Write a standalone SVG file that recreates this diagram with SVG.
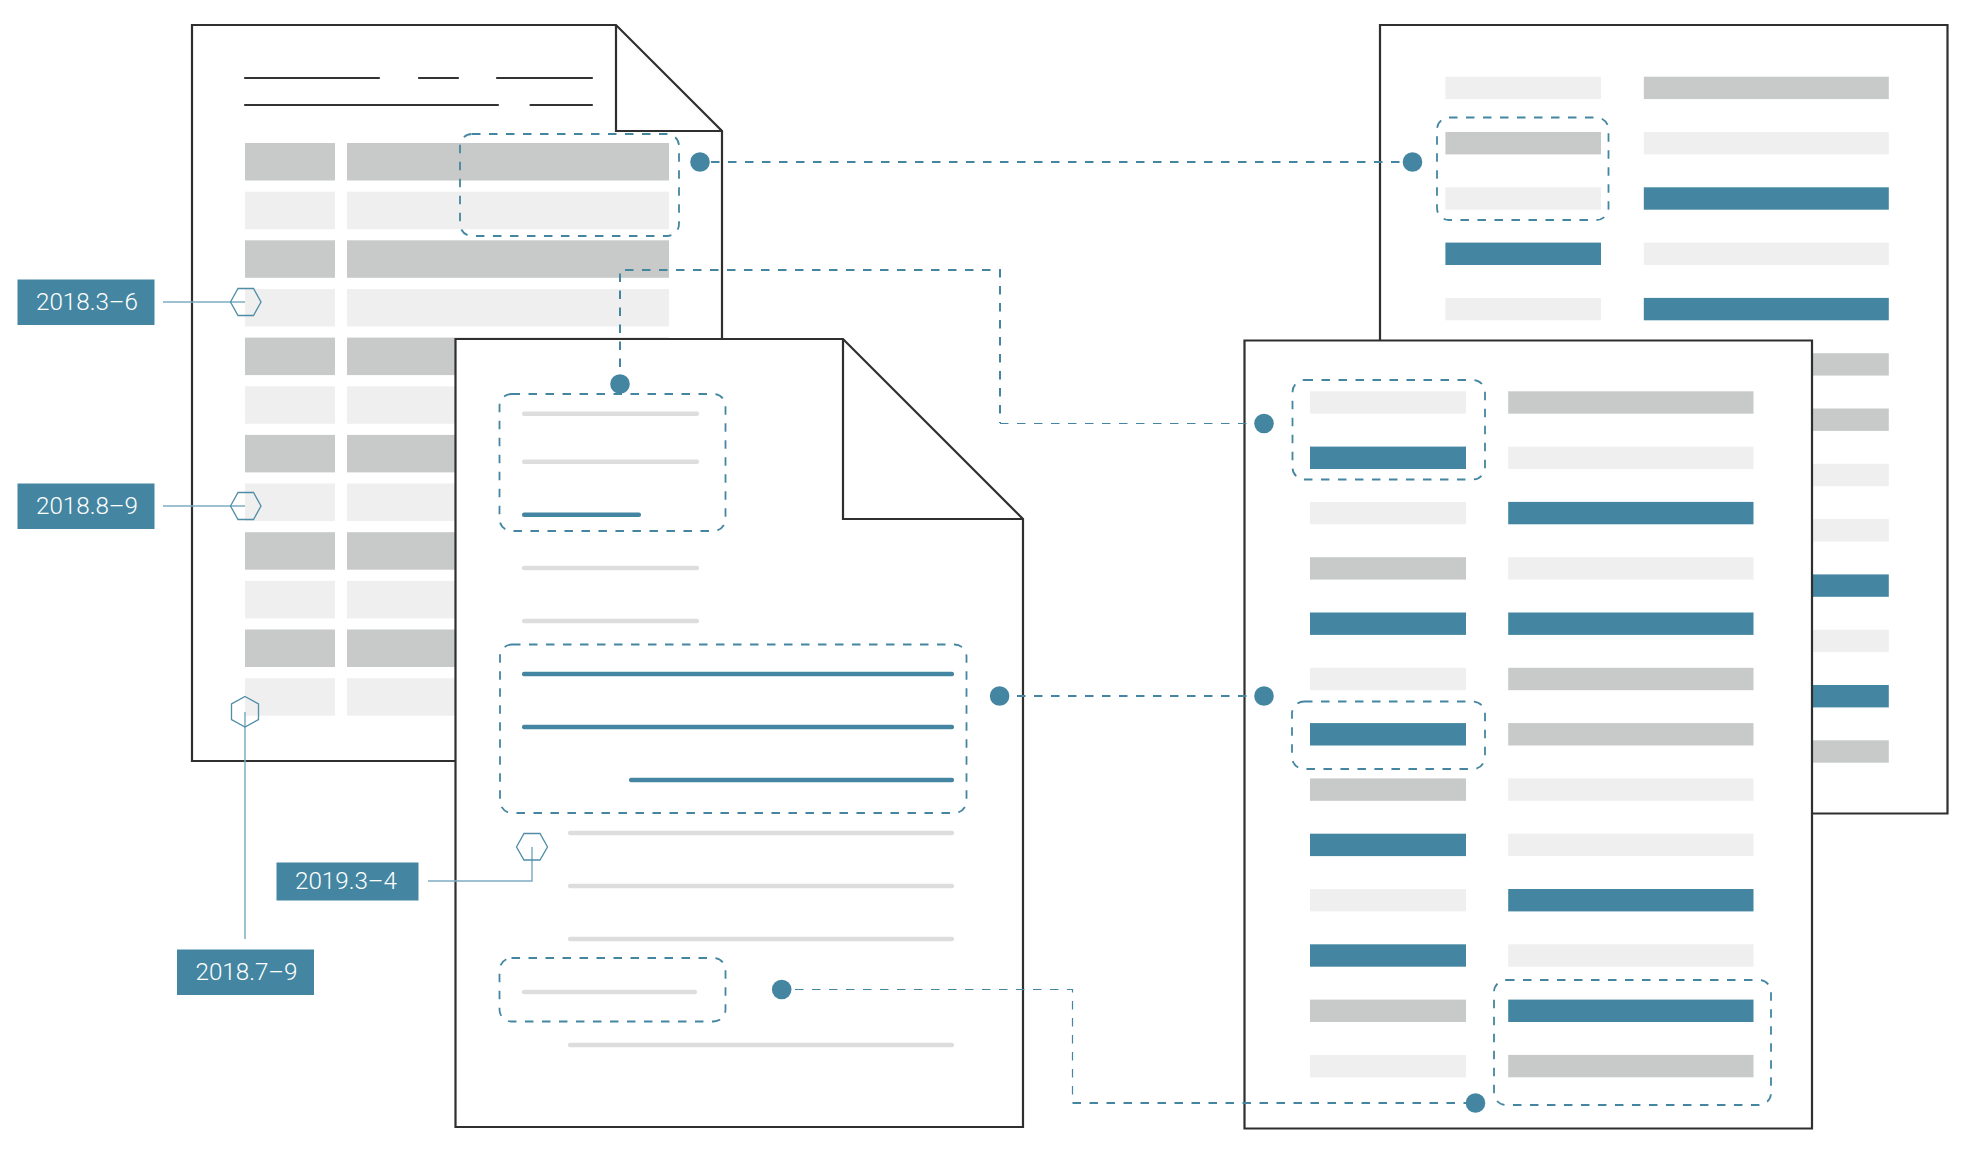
<svg xmlns="http://www.w3.org/2000/svg" width="1965" height="1157" viewBox="0 0 1965 1157">
<style>
.doc{fill:#fff;stroke:#2f2f2f;stroke-width:2.2;stroke-linejoin:miter}
.ink{fill:none;stroke:#2f2f2f;stroke-width:2.2}
.rule{fill:none;stroke:#333;stroke-width:2.2;stroke-linecap:round}
.d{fill:#c8cac9}.l{fill:#efefef}.t{fill:#4486a1}
.g{fill:#dcdddc}
.box{fill:none;stroke:#4486a1;stroke-width:1.8;stroke-dasharray:8.5 8.5}
.dash{fill:none;stroke:#4486a1;stroke-width:2;stroke-dasharray:8.5 8.5}
.thin{fill:none;stroke:#4486a1;stroke-width:1.2;stroke-dasharray:8.5 8.5}
.hex{fill:none;stroke:#4f8ca6;stroke-width:1.3}
.lead{fill:none;stroke:#7dadc1;stroke-width:1.5}
.lab{fill:#fff;font-family:Roboto,"Liberation Sans",sans-serif;font-weight:300;font-size:24.2px}
</style>
<rect width="1965" height="1157" fill="#fff"/>

<g id="doc-1">
<path class="doc" d="M192 25H616L722 131V761H192Z"/>
<path class="ink" d="M616 25V131H722"/>
<path class="rule" d="M245 78H379M419 78H458M497 78H592M245 105H498M530.5 105H592"/>
<rect class="d" x="245" y="143" width="90" height="37.5"/><rect class="d" x="347" y="143" width="322" height="37.5"/>
<rect class="l" x="245" y="191.7" width="90" height="37.5"/><rect class="l" x="347" y="191.7" width="322" height="37.5"/>
<rect class="d" x="245" y="240.3" width="90" height="37.5"/><rect class="d" x="347" y="240.3" width="322" height="37.5"/>
<rect class="l" x="245" y="289" width="90" height="37.5"/><rect class="l" x="347" y="289" width="322" height="37.5"/>
<rect class="d" x="245" y="337.6" width="90" height="37.5"/><rect class="d" x="347" y="337.6" width="322" height="37.5"/>
<rect class="l" x="245" y="386.3" width="90" height="37.5"/><rect class="l" x="347" y="386.3" width="322" height="37.5"/>
<rect class="d" x="245" y="434.9" width="90" height="37.5"/><rect class="d" x="347" y="434.9" width="322" height="37.5"/>
<rect class="l" x="245" y="483.5" width="90" height="37.5"/><rect class="l" x="347" y="483.5" width="322" height="37.5"/>
<rect class="d" x="245" y="532.2" width="90" height="37.5"/><rect class="d" x="347" y="532.2" width="322" height="37.5"/>
<rect class="l" x="245" y="580.9" width="90" height="37.5"/><rect class="l" x="347" y="580.9" width="322" height="37.5"/>
<rect class="d" x="245" y="629.5" width="90" height="37.5"/><rect class="d" x="347" y="629.5" width="322" height="37.5"/>
<rect class="l" x="245" y="678.2" width="90" height="37.5"/><rect class="l" x="347" y="678.2" width="322" height="37.5"/>
<rect class="box" x="460" y="134" width="219" height="102" rx="12"/>
</g>

<g id="doc-3">
<path class="doc" d="M1380 25H1947.5V813.5H1380Z"/>
<rect class="l" x="1445.4" y="76.7" width="155.6" height="22.4"/><rect class="d" x="1643.8" y="76.7" width="245" height="22.4"/>
<rect class="d" x="1445.4" y="132" width="155.6" height="22.4"/><rect class="l" x="1643.8" y="132" width="245" height="22.4"/>
<rect class="l" x="1445.4" y="187.3" width="155.6" height="22.4"/><rect class="t" x="1643.8" y="187.3" width="245" height="22.4"/>
<rect class="t" x="1445.4" y="242.6" width="155.6" height="22.4"/><rect class="l" x="1643.8" y="242.6" width="245" height="22.4"/>
<rect class="l" x="1445.4" y="297.9" width="155.6" height="22.4"/><rect class="t" x="1643.8" y="297.9" width="245" height="22.4"/>
<rect class="d" x="1643.8" y="353.2" width="245" height="22.4"/>
<rect class="d" x="1643.8" y="408.5" width="245" height="22.4"/>
<rect class="l" x="1643.8" y="463.8" width="245" height="22.4"/>
<rect class="l" x="1643.8" y="519.1" width="245" height="22.4"/>
<rect class="t" x="1643.8" y="574.4" width="245" height="22.4"/>
<rect class="l" x="1643.8" y="629.7" width="245" height="22.4"/>
<rect class="t" x="1643.8" y="685" width="245" height="22.4"/>
<rect class="d" x="1643.8" y="740.3" width="245" height="22.4"/>
<rect class="box" x="1437" y="117.5" width="171.5" height="102.5" rx="12"/>
</g>

<g id="doc-2">
<path class="doc" d="M455.5 339H843L1023 519V1127H455.5Z"/>
<path class="ink" d="M843 339V519H1023"/>
<rect class="g" x="522" y="411.5" width="177" height="4.4" rx="2"/>
<rect class="g" x="522" y="459.5" width="177" height="4.4" rx="2"/>
<rect class="t" x="522" y="512.5" width="119" height="4.4" rx="2"/>
<rect class="g" x="522" y="565.8" width="177" height="4.4" rx="2"/>
<rect class="g" x="522" y="618.8" width="177" height="4.4" rx="2"/>
<rect class="t" x="522" y="671.8" width="432" height="4.4" rx="2"/>
<rect class="t" x="522" y="724.8" width="432" height="4.4" rx="2"/>
<rect class="t" x="629" y="777.8" width="325" height="4.4" rx="2"/>
<rect class="g" x="568" y="830.8" width="386" height="4.4" rx="2"/>
<rect class="g" x="568" y="883.8" width="386" height="4.4" rx="2"/>
<rect class="g" x="568" y="936.8" width="386" height="4.4" rx="2"/>
<rect class="g" x="522" y="989.8" width="175" height="4.4" rx="2"/>
<rect class="g" x="568" y="1042.8" width="386" height="4.4" rx="2"/>
<rect class="box" x="499.5" y="394" width="226" height="137" rx="12"/>
<rect class="box" x="500" y="644.5" width="466.5" height="168.5" rx="12"/>
<rect class="box" x="499.5" y="958" width="226" height="63.5" rx="12"/>
</g>

<g id="doc-4">
<path class="doc" d="M1244.5 340.5H1812V1128.5H1244.5Z"/>
<rect class="l" x="1310" y="391.3" width="156" height="22.4"/><rect class="d" x="1508.2" y="391.3" width="245.3" height="22.4"/>
<rect class="t" x="1310" y="446.6" width="156" height="22.4"/><rect class="l" x="1508.2" y="446.6" width="245.3" height="22.4"/>
<rect class="l" x="1310" y="501.9" width="156" height="22.4"/><rect class="t" x="1508.2" y="501.9" width="245.3" height="22.4"/>
<rect class="d" x="1310" y="557.2" width="156" height="22.4"/><rect class="l" x="1508.2" y="557.2" width="245.3" height="22.4"/>
<rect class="t" x="1310" y="612.5" width="156" height="22.4"/><rect class="t" x="1508.2" y="612.5" width="245.3" height="22.4"/>
<rect class="l" x="1310" y="667.8" width="156" height="22.4"/><rect class="d" x="1508.2" y="667.8" width="245.3" height="22.4"/>
<rect class="t" x="1310" y="723.1" width="156" height="22.4"/><rect class="d" x="1508.2" y="723.1" width="245.3" height="22.4"/>
<rect class="d" x="1310" y="778.4" width="156" height="22.4"/><rect class="l" x="1508.2" y="778.4" width="245.3" height="22.4"/>
<rect class="t" x="1310" y="833.7" width="156" height="22.4"/><rect class="l" x="1508.2" y="833.7" width="245.3" height="22.4"/>
<rect class="l" x="1310" y="889" width="156" height="22.4"/><rect class="t" x="1508.2" y="889" width="245.3" height="22.4"/>
<rect class="t" x="1310" y="944.3" width="156" height="22.4"/><rect class="l" x="1508.2" y="944.3" width="245.3" height="22.4"/>
<rect class="d" x="1310" y="999.6" width="156" height="22.4"/><rect class="t" x="1508.2" y="999.6" width="245.3" height="22.4"/>
<rect class="l" x="1310" y="1054.9" width="156" height="22.4"/><rect class="d" x="1508.2" y="1054.9" width="245.3" height="22.4"/>
<rect class="box" x="1292.5" y="380" width="192.5" height="99.5" rx="12"/>
<rect class="box" x="1292" y="701.5" width="193" height="67.5" rx="12"/>
<rect class="box" x="1494" y="980" width="277" height="125" rx="12"/>
</g>

<g id="connectors">
<path class="dash" d="M711 162H1412"/>
<path class="dash" d="M620 384V270H1000V423"/>
<path class="thin" d="M1000 423.5H1264"/>
<path class="dash" d="M1000 696H1264"/>
<path class="thin" d="M795 989.5H1072.5V1103"/>
<path class="dash" d="M1072.5 1103H1475"/>
<path class="lead" d="M163 302H245"/>
<path class="lead" d="M163 506H245"/>
<path class="lead" d="M245 712V939"/>
<path class="lead" d="M532 847V881H428"/>
</g>

<g id="anchor-1"><circle class="t" cx="700" cy="162" r="9.8"/></g>
<g id="anchor-2"><circle class="t" cx="1412.5" cy="162" r="9.8"/></g>
<g id="anchor-3"><circle class="t" cx="620" cy="384" r="9.8"/></g>
<g id="anchor-4"><circle class="t" cx="1264" cy="423.5" r="9.8"/></g>
<g id="anchor-5"><circle class="t" cx="999.6" cy="696" r="9.8"/></g>
<g id="anchor-6"><circle class="t" cx="1264" cy="696" r="9.8"/></g>
<g id="anchor-7"><circle class="t" cx="781.7" cy="989.5" r="9.8"/></g>
<g id="anchor-8"><circle class="t" cx="1475.5" cy="1103" r="9.8"/></g>

<g id="tag-2018-3-6">
<polygon class="hex" points="230.5,302 238,288.5 253.5,288.5 261,302 253.5,315.5 238,315.5"/>
<rect class="t" x="17.5" y="279.5" width="137" height="45.5"/>
<text class="lab" x="36" y="310">2018.3–6</text>
</g>
<g id="tag-2018-8-9">
<polygon class="hex" points="230.5,506 238,492.5 253.5,492.5 261,506 253.5,519.5 238,519.5"/>
<rect class="t" x="17.5" y="483.5" width="137" height="45.5"/>
<text class="lab" x="36" y="514">2018.8–9</text>
</g>
<g id="tag-2018-7-9">
<polygon class="hex" points="245,696.5 258.5,704 258.5,719.5 245,727 231.5,719.5 231.5,704"/>
<rect class="t" x="177" y="949.5" width="137" height="45.5"/>
<text class="lab" x="195.5" y="980">2018.7–9</text>
</g>
<g id="tag-2019-3-4">
<polygon class="hex" points="516.5,847 524,833.5 540,833.5 547.5,847 540,860 524,860"/>
<rect class="t" x="276.5" y="862.5" width="142" height="38"/>
<text class="lab" x="295" y="889">2019.3–4</text>
</g>
</svg>
